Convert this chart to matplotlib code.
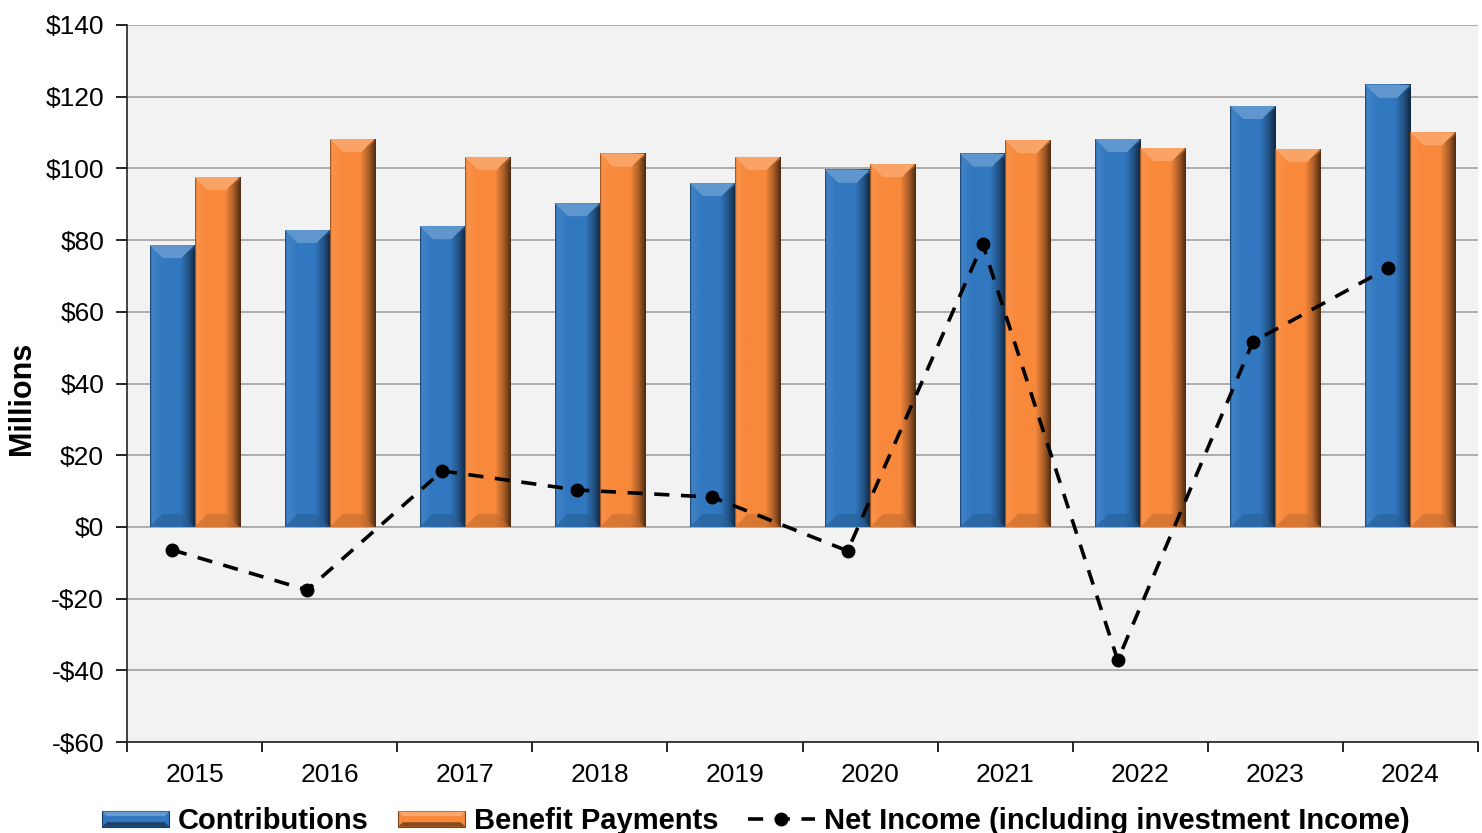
import numpy as np
import matplotlib
matplotlib.use("Agg")
import matplotlib.pyplot as plt
from matplotlib.colors import to_rgb
from matplotlib.patches import Polygon, Rectangle
from matplotlib.legend_handler import HandlerBase
from matplotlib.lines import Line2D

years = ["2015", "2016", "2017", "2018", "2019", "2020", "2021", "2022", "2023", "2024"]
contributions = [78.6, 82.8, 83.9, 90.3, 95.9, 99.6, 104.1, 108.2, 117.4, 123.3]
benefit_payments = [97.6, 108.2, 103.2, 104.1, 103.2, 101.2, 107.9, 105.7, 105.4, 110.1]
net_income = [-6.4, -17.6, 15.6, 10.3, 8.3, -6.7, 78.9, -37.2, 51.6, 72.2]

plt.rcParams["font.family"] = ["Liberation Sans", "DejaVu Sans"]

BLUE = "#3278C0"
ORANGE = "#F8893B"


def shade(color, f):
    """f > 1 lightens towards white, f < 1 darkens towards black."""
    c = np.array(to_rgb(color))
    if f >= 1:
        return tuple(np.clip(c + (1 - c) * (f - 1), 0, 1))
    return tuple(c * f)


def bevel_bar(ax, patch, color, bev_px=13):
    x0, y0 = patch.get_x(), patch.get_y()
    w, h = patch.get_width(), patch.get_height()
    top = y0 + h

    # horizontal shading across the bar body
    t = np.linspace(0, 1, 80)
    f = np.interp(t, [0, 0.03, 0.08, 0.25, 0.66, 0.85, 1.0],
                  [0.55, 1.08, 1.06, 1.0, 1.0, 0.68, 0.32])
    row = np.array([shade(color, v) for v in f])[None, :, :]
    ax.imshow(row, extent=(x0, x0 + w, y0, top), aspect="auto",
              interpolation="bilinear", zorder=2.1)

    # bevel size in data units
    p0 = ax.transData.transform((0, 0))
    dx, dy = ax.transData.inverted().transform(p0 + bev_px) - np.array([0, 0])
    dx = min(dx, w / 2.5)
    dy = min(dy, h / 3)

    ax.add_patch(Polygon([(x0, top), (x0 + w, top), (x0 + w - dx, top - dy), (x0 + dx, top - dy)],
                         facecolor=shade(color, 1.22), edgecolor="none", zorder=2.2))
    ax.add_patch(Polygon([(x0 + w, top), (x0 + w, top - dy * 0.2), (x0 + w - dx, top - dy)],
                         facecolor=shade(color, 0.7), edgecolor="none", zorder=2.25))
    ax.add_patch(Polygon([(x0, y0), (x0 + w, y0), (x0 + w - dx, y0 + dy), (x0 + dx, y0 + dy)],
                         facecolor=shade(color, 0.78), edgecolor="none", alpha=0.6, zorder=2.2))


class BevelHandler(HandlerBase):
    def __init__(self, color):
        super().__init__()
        self.color = color

    def create_artists(self, legend, orig_handle, xdescent, ydescent, width, height, fontsize, trans):
        hh = height * 0.75
        x0 = -xdescent
        y0 = -ydescent + (height - hh) / 2
        b = hh * 0.3
        c = self.color
        arts = [
            Rectangle((x0, y0), width, hh, facecolor=c, edgecolor=shade(c, 0.5), lw=0.8),
            Polygon([(x0, y0 + hh), (x0 + width, y0 + hh), (x0 + width - b, y0 + hh - b), (x0 + b, y0 + hh - b)],
                    facecolor=shade(c, 1.25), edgecolor="none"),
            Polygon([(x0, y0), (x0 + width, y0), (x0 + width - b, y0 + b), (x0 + b, y0 + b)],
                    facecolor=shade(c, 0.55), edgecolor="none"),
        ]
        for a in arts:
            a.set_transform(trans)
        return arts


fig = plt.figure(figsize=(14.82, 8.33), dpi=100)
ax = fig.add_axes([127 / 1482, 1 - 742 / 833, (1478 - 127) / 1482, (742 - 25) / 833])
ax.set_facecolor("#F2F2F2")

x = np.arange(len(years))
w = 1 / 3
bars_c = ax.bar(x - w / 2, contributions, w, color=BLUE, zorder=2)
bars_b = ax.bar(x + w / 2, benefit_payments, w, color=ORANGE, zorder=2)

ax.set_xlim(-0.5, len(years) - 0.5)
ax.set_ylim(-60, 140)

for p in bars_c:
    bevel_bar(ax, p, BLUE)
for p in bars_b:
    bevel_bar(ax, p, ORANGE)

ax.plot(x - w / 2, net_income, color="black", lw=2.6, dashes=(4.2, 3.2),
        marker="o", markersize=9, zorder=4)

ax.set_xlim(-0.5, len(years) - 0.5)
ax.set_ylim(-60, 140)

# axes styling
yt = np.arange(-60, 141, 20)
ax.set_yticks(yt)
ax.set_yticklabels([f"${v}" if v >= 0 else f"-${abs(v)}" for v in yt], fontsize=19)
ax.set_xticks(x)
ax.set_xticklabels(years, fontsize=19)
ax.set_xticks(np.arange(-0.5, len(years), 1), minor=True)
ax.tick_params(axis="x", which="major", length=0, pad=15)
ax.tick_params(axis="x", which="minor", length=7, width=1.2, direction="out")
ax.tick_params(axis="y", length=8, width=1.2, pad=8.5)
ax.yaxis.grid(True, color="#A6A6A6", lw=1.3)
ax.set_axisbelow(True)
for s in ("top", "right"):
    ax.spines[s].set_visible(False)
for s in ("left", "bottom"):
    ax.spines[s].set_linewidth(1.2)
    ax.spines[s].set_color("#222222")

fig.text(22 / 1482, 1 - 398 / 833, "Millions", rotation=90, ha="center", va="center",
         fontsize=22, fontweight="bold")

h_c = Rectangle((0, 0), 1, 1)
h_b = Rectangle((0, 0), 1, 1)
h_n = Line2D([], [], color="black", lw=2.6, dashes=(4.2, 3.2), marker="o", markersize=9)
fig.legend([h_c, h_b, h_n],
           ["Contributions", "Benefit Payments", "Net Income (including investment Income)"],
           loc="center", bbox_to_anchor=(0.51, 0.014), ncol=3, frameon=False,
           prop=dict(weight="bold", size=21), handlelength=2.3, handletextpad=0.3,
           columnspacing=1.0, numpoints=1,
           handler_map={h_c: BevelHandler(BLUE), h_b: BevelHandler(ORANGE)})

fig.savefig("out.png", dpi=100)
